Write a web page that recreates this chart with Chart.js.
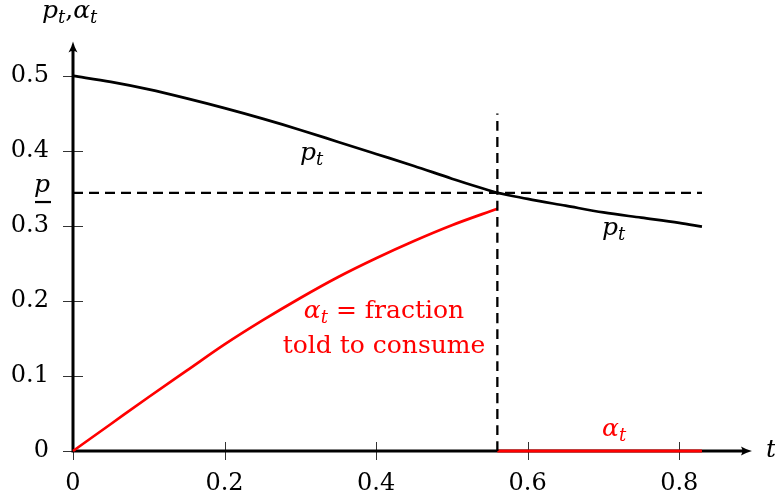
<!DOCTYPE html>
<html>
<head>
<meta charset="utf-8">
<script src="https://cdn.jsdelivr.net/npm/chart.js@4/dist/chart.umd.min.js"></script>
<style>
  html, body { margin: 0; padding: 0; background: #fff; }
</style>
</head>
<body>
<canvas id="c" width="775" height="500"></canvas>
<script>
// Price path p_t and share told to consume alpha_t over time t
const tBefore = [0, 0.05, 0.1, 0.15, 0.2, 0.25, 0.3, 0.35, 0.4, 0.45, 0.5, 0.56];
const pBefore = [0.5, 0.492, 0.482, 0.470, 0.457, 0.443, 0.428, 0.412, 0.396, 0.380, 0.363, 0.344];
const alphaBefore = [0, 0.036, 0.072, 0.107, 0.142, 0.174, 0.204, 0.232, 0.257, 0.280, 0.301, 0.323];

const tAfter = [0.56, 0.6, 0.65, 0.7, 0.75, 0.8, 0.83];
const pAfter = [0.344, 0.336, 0.327, 0.318, 0.311, 0.304, 0.299];
const alphaAfter = [0, 0, 0, 0, 0, 0, 0];

// threshold price and switching time
const pBar = 0.344;
const tStar = 0.56;
const tEnd = 0.83;
const vTop = 0.45;

const xTicks = [0, 0.2, 0.4, 0.6, 0.8];
const xTickLabels = ['0', '0.2', '0.4', '0.6', '0.8'];
const yTicks = [0, 0.1, 0.2, 0.3, 0.4, 0.5];
const yTickLabels = ['0', '0.1', '0.2', '0.3', '0.4', '0.5'];

const SERIF = "'DejaVu Serif'";
const RED = '#ff0000';
const FS = 25;   // annotation font size

const pts = (xs, ys) => xs.map((x, i) => ({ x: x, y: ys[i] }));

function ital(size) { return 'italic ' + size + 'px ' + SERIF; }
function rom(size) { return size + 'px ' + SERIF; }

// draws a symbol with an italic subscript, returns the advance width
function drawSub(ctx, base, sub, x, y, size, color) {
  ctx.fillStyle = color;
  ctx.textAlign = 'left';
  ctx.textBaseline = 'alphabetic';
  ctx.font = ital(size);
  ctx.fillText(base, x, y);
  let w = ctx.measureText(base).width;
  const ss = Math.round(size * 0.7);
  ctx.font = ital(ss);
  ctx.fillText(sub, x + w, y + size * 0.2);
  w += ctx.measureText(sub).width;
  return w;
}
function measureSub(ctx, base, sub, size) {
  ctx.font = ital(size);
  let w = ctx.measureText(base).width;
  ctx.font = ital(Math.round(size * 0.7));
  return w + ctx.measureText(sub).width;
}

function arrowHead(ctx, x, y, dir) {
  const L = 11, H = 4.5;
  ctx.save();
  ctx.translate(x, y);
  if (dir === 'up') ctx.rotate(-Math.PI / 2);
  ctx.beginPath();
  ctx.moveTo(0, 0);
  ctx.quadraticCurveTo(-L * 0.55, -H * 0.35, -L, -H);
  ctx.quadraticCurveTo(-L * 0.75, 0, -L, H);
  ctx.quadraticCurveTo(-L * 0.55, H * 0.35, 0, 0);
  ctx.closePath();
  ctx.fillStyle = '#000';
  ctx.fill();
  ctx.restore();
}

const axesPlugin = {
  id: 'axesPlugin',
  beforeDatasetsDraw(chart) {
    const ctx = chart.ctx;
    const xs = chart.scales.x, ys = chart.scales.y;
    const x0 = xs.getPixelForValue(0), y0 = ys.getPixelForValue(0);
    ctx.save();
    // tick marks crossing the axes
    ctx.strokeStyle = '#333';
    ctx.lineWidth = 1;
    ctx.beginPath();
    xTicks.forEach(v => {
      const px = Math.round(xs.getPixelForValue(v)) + 0.5;
      ctx.moveTo(px, y0 - 9); ctx.lineTo(px, y0 + 9);
    });
    yTicks.forEach(v => {
      const py = Math.round(ys.getPixelForValue(v)) + 0.5;
      ctx.moveTo(x0 - 10, py); ctx.lineTo(x0 + 10, py);
    });
    ctx.stroke();
    // axis lines with arrow tips
    const xTip = xs.getPixelForValue(0.896);
    const yTip = ys.getPixelForValue(0.546);
    ctx.strokeStyle = '#000';
    ctx.lineWidth = 3;
    ctx.beginPath();
    ctx.moveTo(x0 - 1.5, y0); ctx.lineTo(xTip - 6, y0);
    ctx.moveTo(x0, y0 + 1.5); ctx.lineTo(x0, yTip + 6);
    ctx.stroke();
    arrowHead(ctx, xTip, y0, 'right');
    arrowHead(ctx, x0, yTip, 'up');
    ctx.restore();
  },
  afterDatasetsDraw(chart) {
    const ctx = chart.ctx;
    const ys = chart.scales.y;
    ctx.save();
    // axis titles
    let x = 42, w;
    w = drawSub(ctx, 'p', 't', x, 18, FS, '#000');
    x += w;
    ctx.font = rom(FS); ctx.fillText(',', x, 18);
    x += ctx.measureText(',').width;
    drawSub(ctx, 'α', 't', x, 18, FS, '#000');
    ctx.font = ital(FS); ctx.fillStyle = '#000';
    ctx.fillText('t', 766, 457);

    // underlined threshold label on the vertical axis
    const py = ys.getPixelForValue(pBar);
    ctx.font = ital(FS);
    ctx.fillText('p', 34, py - 1);
    ctx.fillRect(35, py + 8, 16, 2.2);

    // curve labels
    drawSub(ctx, 'p', 't', 300, 160, FS, '#000');
    drawSub(ctx, 'p', 't', 602, 235, FS, '#000');
    drawSub(ctx, 'α', 't', 602, 436, FS, RED);

    // red annotation, two centred lines
    const cx = 384;
    const aw = measureSub(ctx, 'α', 't', FS);
    ctx.font = rom(FS);
    const rest = ' = fraction';
    const tw = aw + ctx.measureText(rest).width;
    const sx = cx - tw / 2;
    drawSub(ctx, 'α', 't', sx, 318, FS, RED);
    ctx.font = rom(FS); ctx.fillStyle = RED; ctx.textAlign = 'left';
    ctx.fillText(rest, sx + aw, 318);
    ctx.textAlign = 'center';
    ctx.fillText('told to consume', cx, 353);
    ctx.restore();
  }
};

const common = { showLine: true, pointRadius: 0, fill: false, clip: false, cubicInterpolationMode: 'monotone' };

new Chart(document.getElementById('c'), {
  type: 'scatter',
  data: {
    datasets: [
      Object.assign({}, common, { label: 'pbar', data: pts([0, tEnd], [pBar, pBar]),
        borderColor: '#000', borderWidth: 2.3, borderDash: [10, 6] }),
      Object.assign({}, common, { label: 'tstar', data: pts([tStar, tStar], [0, vTop]),
        borderColor: '#000', borderWidth: 2.3, borderDash: [10, 6] }),
      Object.assign({}, common, { label: 'p1', data: pts(tBefore, pBefore),
        borderColor: '#000', borderWidth: 2.7 }),
      Object.assign({}, common, { label: 'p2', data: pts(tAfter, pAfter),
        borderColor: '#000', borderWidth: 2.7 }),
      Object.assign({}, common, { label: 'a1', data: pts(tBefore, alphaBefore),
        borderColor: RED, borderWidth: 2.7 }),
      Object.assign({}, common, { label: 'a2', data: pts(tAfter, alphaAfter),
        borderColor: RED, borderWidth: 3.2 })
    ]
  },
  options: {
    responsive: false,
    animation: false,
    layout: { padding: { top: 35, right: 20, left: 0, bottom: 0 } },
    plugins: { legend: { display: false }, tooltip: { enabled: false } },
    scales: {
      x: {
        type: 'linear', min: 0, max: 0.9,
        grid: { display: false, drawTicks: false },
        border: { display: false },
        afterBuildTicks: s => { s.ticks = xTicks.map(v => ({ value: v })); },
        afterFit: s => { s.height = 49; },
        ticks: {
          padding: 18, color: '#000', maxRotation: 0, autoSkip: false,
          font: { family: SERIF, size: 24 },
          callback: (v) => xTickLabels[xTicks.indexOf(v)]
        }
      },
      y: {
        type: 'linear', min: 0, max: 0.55,
        grid: { display: false, drawTicks: false },
        border: { display: false },
        afterBuildTicks: s => { s.ticks = yTicks.map(v => ({ value: v })); },
        afterFit: s => { s.width = 73; },
        ticks: {
          padding: 24, color: '#000', autoSkip: false,
          font: { family: SERIF, size: 24 },
          callback: (v) => yTickLabels[yTicks.indexOf(v)]
        }
      }
    }
  },
  plugins: [axesPlugin]
});
</script>
</body>
</html>
